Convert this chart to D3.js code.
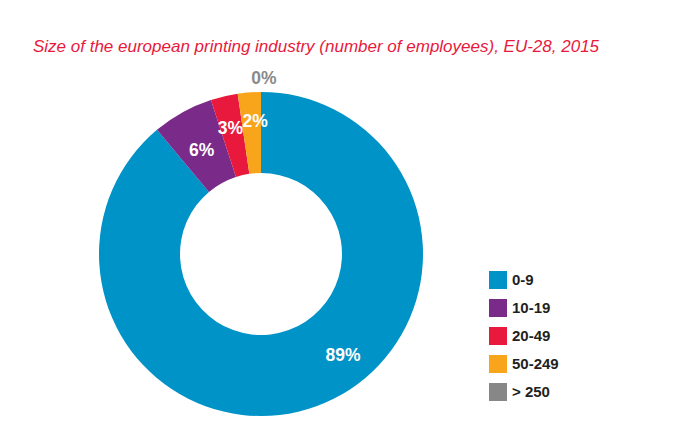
<!DOCTYPE html>
<html>
<head>
<meta charset="utf-8">
<script src="https://cdn.jsdelivr.net/npm/d3@7"></script>
<style>
  body { margin: 0; background: #fff; }
  text { font-family: "Liberation Sans", Arial, sans-serif; }
</style>
</head>
<body>
<div id="chart"></div>
<script>
// size classes and share of companies (%)
const categories = ['0-9', '10-19', '20-49', '50-249', '> 250'];
const shares = [88.9, 6.1, 2.7, 2.3, 0];
const colours = ['#0093c7', '#7a2a89', '#e8193c', '#f8a51c', '#878787'];

const width = 696;
const height = 428;

const svg = d3.select('#chart')
  .append('svg')
  .attr('width', width)
  .attr('height', height);

// title
svg.append('text')
  .attr('x', 33)
  .attr('y', 52)
  .attr('fill', '#e8193c')
  .style('font-style', 'italic')
  .style('font-size', '17px')
  .text('Size of the european printing industry (number of employees), EU-28, 2015');

// donut
const cx = 261;
const cy = 254;
const outer = 162;
const inner = 81;

const pie = d3.pie().sort(null).value(d => d);
const slices = pie(shares);

const arc = d3.arc().innerRadius(inner).outerRadius(outer);

// label placement: fraction along each slice and distance from centre
const labelAlong = [0.44, 0.47, 0.45, 0.7, 0.5];
const labelRadius = [130, 120, 130, 133, 176];

const g = svg.append('g')
  .attr('transform', `translate(${cx},${cy})`);

g.selectAll('path')
  .data(slices)
  .enter()
  .append('path')
  .attr('d', arc)
  .attr('fill', (d, i) => colours[i]);

const fmt = d3.format('.0f');

g.selectAll('.lbl')
  .data(slices)
  .enter()
  .append('text')
  .attr('class', 'lbl')
  .attr('transform', (d, i) => {
    const a = d.startAngle + (d.endAngle - d.startAngle) * labelAlong[i];
    const p = d3.arc().innerRadius(labelRadius[i]).outerRadius(labelRadius[i])
      .centroid({ startAngle: a, endAngle: a });
    return `translate(${p[0]},${p[1]})`;
  })
  .attr('text-anchor', 'middle')
  .attr('dx', d => d.value > 0 ? 0 : 3)
  .attr('dy', '0.36em')
  .attr('fill', d => d.value > 0 ? '#fff' : '#8a8a8a')
  .style('font-size', '17.5px')
  .style('font-weight', 'bold')
  .text(d => fmt(d.value) + '%');

// legend
const legend = svg.append('g')
  .attr('transform', 'translate(489,271)');

const rows = legend.selectAll('g')
  .data(categories)
  .enter()
  .append('g')
  .attr('transform', (d, i) => `translate(0,${i * 28})`);

rows.append('rect')
  .attr('width', 18)
  .attr('height', 18)
  .attr('fill', (d, i) => colours[i]);

rows.append('text')
  .attr('x', 23)
  .attr('y', 14)
  .attr('fill', '#231f20')
  .style('font-size', '15px')
  .style('font-weight', 'bold')
  .text(d => d);
</script>
</body>
</html>
